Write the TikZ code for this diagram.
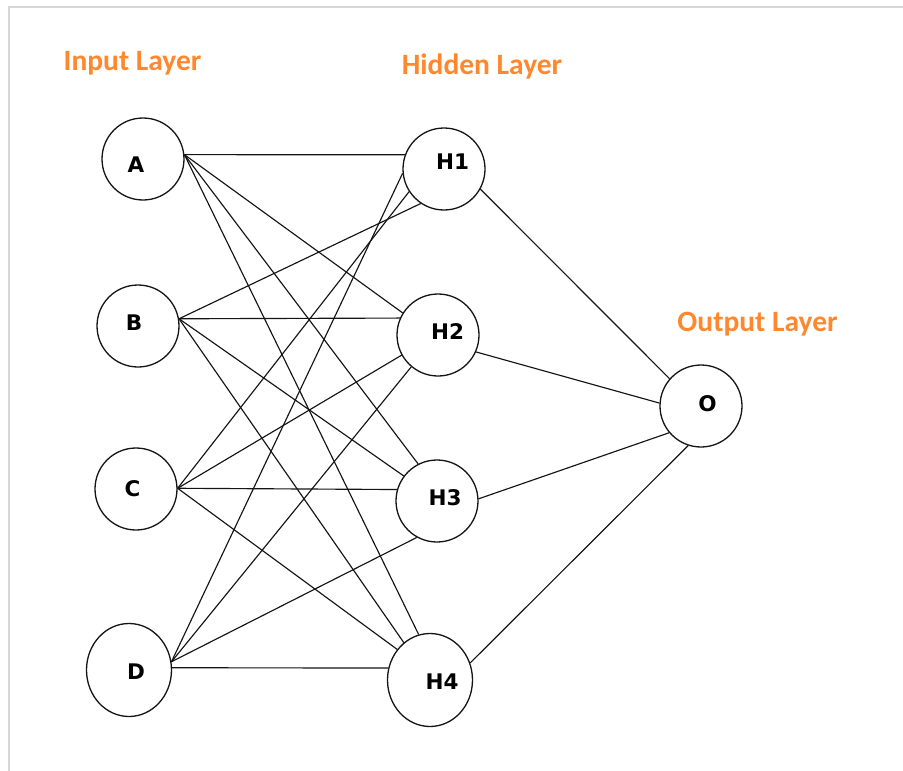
\documentclass[tikz,border=0pt]{standalone}
\usepackage{fontspec}
\setmainfont{Carlito}
\newfontfamily\nodefont{DejaVu Sans}
\usetikzlibrary{shapes.geometric}
\definecolor{layerorange}{RGB}{255,135,45}
\definecolor{framegray}{RGB}{214,214,214}
\definecolor{inkgray}{RGB}{20,20,20}
\begin{document}
\begin{tikzpicture}[x=1pt,y=-1pt,
  neuron/.style={draw=inkgray, ellipse, line width=1.3pt, inner sep=0pt,
                 minimum width=82pt, minimum height=82pt},
  bigneuron/.style={neuron, minimum width=85pt, minimum height=93pt},
  letter/.style={inner sep=0pt, text=black, font=\nodefont\bfseries\fontsize{21.5}{23}\selectfont},
  layertitle/.style={inner sep=0pt, anchor=base, text=layerorange, font=\bfseries\fontsize{29.5}{32}\selectfont},
  link/.style={draw=inkgray, line width=1.15pt},
  frame/.style={draw=framegray, line width=2pt}]
\useasboundingbox (0,0) rectangle (903,771);
\draw[frame] (9,771) -- (9,7) -- (903,7);

% titles
\node[layertitle] (tIn)  at (132.5,70) {Input Layer};
\node[layertitle] (tHid) at (482,74)   {Hidden Layer};
\node[layertitle] (tOut) at (757.5,331){Output Layer};

% input layer
\node[neuron] (A) at (143,159) {};
\node[neuron] (B) at (138,326) {};
\node[neuron] (C) at (136,489) {};
\node[bigneuron] (D) at (129,670) {};
% hidden layer
\node[neuron] (H1) at (444,169) {};
\node[neuron] (H2) at (438,335) {};
\node[neuron] (H3) at (437,501) {};
\node[bigneuron] (H4) at (430,680) {};
% output
\node[neuron] (O) at (701,406) {};

% letters
\node[letter] (lA) at (136,165) {A};
\node[letter] (lB) at (134,323) {B};
\node[letter] (lC) at (132.5,489) {C};
\node[letter] (lD) at (136,672) {D};
\node[letter] (lH1) at (452.5,161.5) {H1};
\node[letter] (lH2) at (447.5,332) {H2};
\node[letter] (lH3) at (445,498) {H3};
\node[letter] (lH4) at (442,682) {H4};
\node[letter] (lO) at (707.5,404) {O};

% input -> hidden
\draw[link] (A.6) -- (H1.160);
\draw[link] (A.6) -- (H2.148);
\draw[link] (A.6) -- (H3.117);
\draw[link] (A.6) -- (H4.104);

\draw[link] (B.10) -- (H1.236);
\draw[link] (B.10) -- (H2.156);
\draw[link] (B.10) -- (H3.143);
\draw[link] (B.10) -- (H4.125);

\draw[link] (C.1) -- (H1.213);
\draw[link] (C.1) -- (H2.209);
\draw[link] (C.1) -- (H3.164);
\draw[link] (C.1) -- (H4.137);

\draw[link] (D.11) -- (H1.186);
\draw[link] (D.11) -- (H2.230);
\draw[link] (D.11) -- (H3.241);
\draw[link] (D.3) -- (H4.164);

% hidden -> output
\draw[link] (H1.-29) -- (O.139);
\draw[link] (H2.-24) -- (O.176);
\draw[link] (H3.3) -- (O.220);
\draw[link] (H4.23) -- (O.252);
\end{tikzpicture}
\end{document}
